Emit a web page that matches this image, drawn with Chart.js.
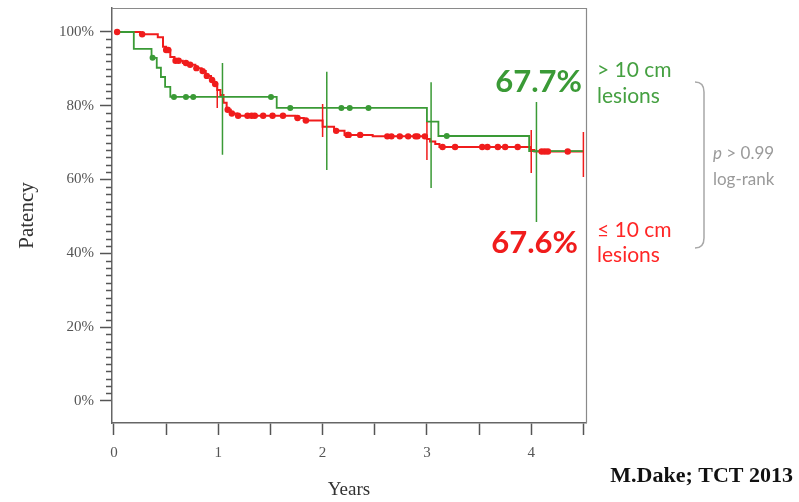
<!DOCTYPE html>
<html>
<head>
<meta charset="utf-8">
<script src="https://cdn.jsdelivr.net/npm/chart.js@4.4.1/dist/chart.umd.min.js"></script>
<style>
  html, body { margin: 0; padding: 0; background: #ffffff; }
  #wrap { width: 799px; height: 502px; position: relative; }
</style>
</head>
<body>
<div id="wrap"><canvas id="km" width="799" height="502"></canvas></div>
<script>
// Kaplan-Meier patency, lesions > 10 cm (time in years, patency in %)
const longTimes   = [0, 0.19, 0.36, 0.41, 0.45, 0.49, 0.54, 1.56, 3.00, 3.11, 3.98, 4.50];
const longPatency = [100, 95.4, 93.0, 90.3, 87.8, 85.1, 82.4, 79.4, 75.7, 71.8, 67.7, 67.7];
const longCensorTimes   = [0.37, 0.575, 0.69, 0.76, 1.505, 1.69, 2.18, 2.26, 2.44, 3.19];
const longCensorPatency = [93.0, 82.4, 82.4, 82.4, 82.4, 79.4, 79.4, 79.4, 79.4, 71.8];
const longCiTimes = [1.04, 2.04, 3.04, 4.05];
const longCiUpper = [91.6, 89.2, 86.4, 81.0];
const longCiLower = [66.7, 62.6, 57.7, 48.5];

// Kaplan-Meier patency, lesions <= 10 cm
const shortTimes   = [0, 0.25, 0.42, 0.47, 0.50, 0.54, 0.58, 0.66, 0.72, 0.78, 0.84, 0.88, 0.93, 0.96, 0.99,
                      1.02, 1.05, 1.08, 1.12, 1.18, 1.74, 1.82, 2.00, 2.11, 2.21, 2.48, 3.00, 3.03, 3.08, 3.12,
                      3.99, 4.03, 4.50];
const shortPatency = [100, 99.4, 98.6, 96.0, 95.1, 93.2, 92.2, 91.6, 91.1, 90.2, 89.4, 88.1, 87.0, 85.9, 84.3,
                      82.9, 80.8, 78.9, 77.9, 77.3, 76.7, 76.0, 74.3, 73.2, 72.1, 71.7, 71.0, 70.3, 69.6, 68.8,
                      68.0, 67.6, 67.6];
const shortCensorTimes   = [0.03, 0.27, 0.50, 0.52, 0.59, 0.62, 0.69, 0.73, 0.79, 0.85, 0.89, 0.94, 0.97,
                            1.09, 1.13, 1.19, 1.28, 1.32, 1.35, 1.43, 1.52, 1.62, 1.76, 1.84,
                            2.13, 2.24, 2.25, 2.36, 2.62, 2.66, 2.74, 2.82, 2.89, 2.91, 2.98,
                            3.15, 3.27, 3.53, 3.58, 3.68, 3.75, 3.87, 4.10, 4.13, 4.16, 4.35];
const shortCensorPatency = [100, 99.4, 95.1, 95.1, 92.2, 92.2, 91.6, 91.1, 90.2, 89.4, 88.1, 87.0, 85.9,
                            78.9, 77.9, 77.3, 77.3, 77.3, 77.3, 77.3, 77.3, 77.3, 76.7, 76.0,
                            73.2, 72.1, 72.1, 72.1, 71.7, 71.7, 71.7, 71.7, 71.7, 71.7, 71.7,
                            68.8, 68.8, 68.8, 68.8, 68.8, 68.8, 68.8, 67.6, 67.6, 67.6, 67.6];
const shortCiTimes = [0.99, 2.00, 3.00, 4.00, 4.50];
const shortCiUpper = [86.4, 80.5, 75.6, 73.4, 72.9];
const shortCiLower = [79.4, 71.5, 65.3, 61.8, 60.7];

// Axis ticks
const yMajorTicks = [0, 20, 40, 60, 80, 100];
const xLabelTicks = [0, 1, 2, 3, 4];

const GREEN = '#3a9a36';
const RED = '#f01c1c';
const SERIF = '"Liberation Serif", "DejaVu Serif", serif';
const SANS = 'Lato, "Open Sans", "Liberation Sans", sans-serif';

const pairs = (xs, ys) => xs.map((x, i) => ({ x: x, y: ys[i] }));
const bars = (ts, up, lo) => ts.flatMap((t, i) => [{ x: t, y: up[i] }, { x: t, y: lo[i] }, { x: t, y: null }]);

// keep the plot box at a fixed size: no extra room for overhanging tick labels
const fixBox = (w, h) => (s) => {
  if (w !== null) s.width = w;
  if (h !== null) s.height = h;
  s.paddingTop = 0; s.paddingBottom = 0; s.paddingLeft = 0; s.paddingRight = 0;
};

// Minor percent ticks, box frame and side annotations
const decorations = {
  id: 'decorations',
  afterDraw(chart) {
    const { ctx, chartArea: a, scales: { y } } = chart;
    ctx.save();
    // minor ticks every 2 %
    ctx.strokeStyle = '#555';
    ctx.lineWidth = 1.5;
    for (let v = 0; v <= 100; v += 2) {
      if (yMajorTicks.includes(v)) continue;
      const py = Math.round(y.getPixelForValue(v)) + 0.5;
      ctx.beginPath();
      ctx.moveTo(a.left - 6, py);
      ctx.lineTo(a.left, py);
      ctx.stroke();
    }
    // top and right sides of the box
    ctx.strokeStyle = '#8a8a8a';
    ctx.lineWidth = 1.2;
    ctx.beginPath();
    ctx.moveTo(a.left, a.top + 0.5);
    ctx.lineTo(a.right + 0.5, a.top + 0.5);
    ctx.lineTo(a.right + 0.5, a.bottom);
    ctx.stroke();

    // final patency values
    ctx.textBaseline = 'alphabetic';
    ctx.textAlign = 'right';
    ctx.font = 'bold 31px ' + SANS;
    ctx.fillStyle = GREEN;
    ctx.fillText('67.7%', 582, 92);
    ctx.fillStyle = RED;
    ctx.fillText('67.6%', 578, 253);

    // group labels
    ctx.textAlign = 'left';
    ctx.font = '21px ' + SANS;
    ctx.fillStyle = '#45a041';
    ctx.fillText('> 10 cm', 597, 77);
    ctx.fillText('lesions', 597, 103);
    ctx.fillStyle = '#ff2626';
    ctx.fillText('\u2264 10 cm', 597, 237);
    ctx.fillText('lesions', 597, 262);

    // bracket joining the two groups
    ctx.strokeStyle = '#a8a8a8';
    ctx.lineWidth = 1.5;
    ctx.beginPath();
    ctx.moveTo(695, 82);
    ctx.quadraticCurveTo(704, 82, 704, 92);
    ctx.lineTo(704, 238);
    ctx.quadraticCurveTo(704, 248, 695, 248);
    ctx.stroke();

    // log-rank result
    ctx.fillStyle = '#9a9a9a';
    ctx.font = 'italic 17px ' + SANS;
    ctx.fillText('p', 713, 159);
    const pw = ctx.measureText('p').width;
    ctx.font = '17px ' + SANS;
    ctx.fillText(' > 0.99', 713 + pw, 159);
    ctx.fillText('log-rank', 713, 185);

    // source line
    ctx.fillStyle = '#111';
    ctx.textAlign = 'right';
    ctx.font = 'bold 22px ' + SERIF;
    ctx.fillText('M.Dake; TCT 2013', 793, 482);
    ctx.restore();
  }
};

new Chart(document.getElementById('km'), {
  type: 'line',
  data: {
    datasets: [
      { label: '> 10 cm CI', data: bars(longCiTimes, longCiUpper, longCiLower), borderColor: GREEN, borderWidth: 1.5,
        pointRadius: 0, spanGaps: false, order: 1 },
      { label: '<= 10 cm CI', data: bars(shortCiTimes, shortCiUpper, shortCiLower), borderColor: RED, borderWidth: 1.5,
        pointRadius: 0, spanGaps: false, order: 2 },
      { label: '> 10 cm censored', data: pairs(longCensorTimes, longCensorPatency), showLine: false,
        pointRadius: 3, pointBackgroundColor: GREEN, pointBorderColor: GREEN, pointBorderWidth: 0, order: 3 },
      { label: '<= 10 cm censored', data: pairs(shortCensorTimes, shortCensorPatency), showLine: false,
        pointRadius: 3.2, pointBackgroundColor: RED, pointBorderColor: RED, pointBorderWidth: 0, order: 4 },
      { label: '> 10 cm', data: pairs(longTimes, longPatency), stepped: 'before', borderColor: GREEN,
        borderWidth: 1.8, pointRadius: 0, order: 5 },
      { label: '<= 10 cm', data: pairs(shortTimes, shortPatency), stepped: 'before', borderColor: RED,
        borderWidth: 2, pointRadius: 0, order: 6 }
    ]
  },
  options: {
    responsive: false,
    animation: false,
    devicePixelRatio: 1,
    layout: { padding: { top: 8, right: 213, left: 0, bottom: 0 } },
    plugins: { legend: { display: false }, tooltip: { enabled: false } },
    scales: {
      x: {
        type: 'linear',
        position: 'bottom',
        min: -0.019,
        max: 4.525,
        afterFit: fixBox(null, 79),
        border: { display: true, color: '#666', width: 1.5 },
        grid: { drawOnChartArea: false, drawTicks: true, tickLength: 12, tickColor: '#555', tickWidth: 1.5 },
        ticks: {
          stepSize: 0.5, includeBounds: false, autoSkip: false, maxRotation: 0, padding: 9,
          color: '#555', font: { family: SERIF, size: 15 },
          callback: (v) => xLabelTicks.includes(v) ? String(v) : ''
        },
        title: { display: true, text: 'Years', color: '#333', font: { family: SERIF, size: 19 },
                 padding: { top: 0, bottom: 1 } }
      },
      y: {
        type: 'linear',
        min: -6,
        max: 106.5,
        afterFit: fixBox(112, null),
        border: { display: true, color: '#666', width: 1.5 },
        grid: { drawOnChartArea: false, drawTicks: true, tickLength: 12, tickColor: '#555', tickWidth: 1.5 },
        ticks: {
          stepSize: 20, includeBounds: false, autoSkip: false, padding: 6,
          color: '#555', font: { family: SERIF, size: 15 },
          callback: (v) => yMajorTicks.includes(v) ? v + '%' : ''
        },
        title: { display: true, text: 'Patency', color: '#333', font: { family: SERIF, size: 21 },
                 padding: { top: 15, bottom: 0 } }
      }
    }
  },
  plugins: [decorations]
});
</script>
</body>
</html>
